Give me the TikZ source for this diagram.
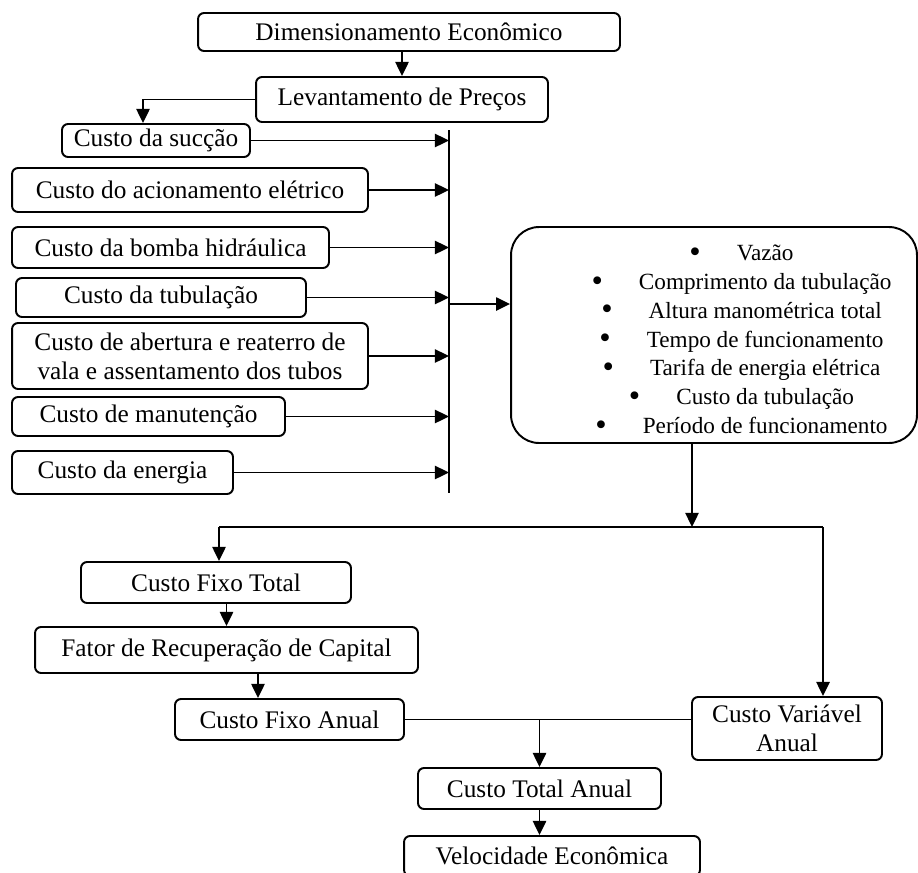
\documentclass[tikz,border=0pt]{standalone}
\usepackage{fontspec}
\setmainfont{Liberation Serif}
\usetikzlibrary{arrows.meta}
\newcommand{\bul}{\raisebox{-0.15ex}{\scalebox{1.4}{\textbullet}}\hspace{0.72cm}}

\begin{document}
\begin{tikzpicture}[->,>={Triangle[length=8pt,width=7.5pt]},x=0.02cm,y=-0.02cm,
  line width=1.1pt,font=\fontsize{14.4}{16.5}\selectfont,
  box node/.style={draw,rounded corners=0.12cm,align=center,inner sep=0pt}]

  \useasboundingbox (0,0) rectangle (918,872);

  \node[box node,minimum width=8.44cm,minimum height=0.76cm] (dim) at (409,32) {Dimensionamento Econômico};
  \node[box node,minimum width=5.84cm,minimum height=0.90cm] (lev) at (402,99.5) {Levantamento de Preços};
  \node[box node,minimum width=3.76cm,minimum height=0.66cm] (suc) at (156,140.5) {Custo da sucção};
  \node[box node,minimum width=7.12cm,minimum height=0.88cm] (acion) at (190,190) {Custo do acionamento elétrico};
  \node[box node,minimum width=6.34cm,minimum height=0.82cm] (bomba) at (170.5,247.5) {Custo da bomba hidráulica};
  \node[box node,minimum width=5.80cm,minimum height=0.78cm] (tub) at (161,297.5) {Custo da tubulação};
  \node[box node,minimum width=7.12cm,minimum height=1.32cm] (abert) at (190,356) {Custo de abertura e reaterro de\\vala e assentamento dos tubos};
  \node[box node,minimum width=5.46cm,minimum height=0.78cm] (manut) at (148.5,416.5) {Custo de manutenção};
  \node[box node,minimum width=4.42cm,minimum height=0.86cm] (energ) at (122.5,472.5) {Custo da energia};
  \node[box node,rounded corners=0.56cm,minimum width=8.12cm,minimum height=4.32cm,
        font=\fontsize{13.2}{16.4}\selectfont] (params) at (714,335)
    {\hspace*{1.1cm}\begin{tabular}{@{}c@{}}
      \rule{0pt}{0.66cm}\bul Vazão\\
      \bul Comprimento da tubulação\\
      \bul Altura manométrica total\\
      \bul Tempo de funcionamento\\
      \bul Tarifa de energia elétrica\\
      \bul Custo da tubulação\\
      \bul Período de funcionamento
    \end{tabular}};
  \node[box node,minimum width=5.40cm,minimum height=0.82cm] (cft) at (216,582.5) {Custo Fixo Total};
  \node[box node,minimum width=7.66cm,minimum height=0.92cm] (frc) at (226.5,650) {Fator de Recuperação de Capital};
  \node[box node,minimum width=4.58cm,minimum height=0.82cm] (cfa) at (289.5,719.5) {Custo Fixo Anual};
  \node[box node,minimum width=3.80cm,minimum height=1.26cm] (cva) at (787,728.5) {Custo Variável\\Anual};
  \node[box node,minimum width=4.86cm,minimum height=0.82cm] (cta) at (539.5,788.5) {Custo Total Anual};
  \node[box node,minimum width=5.92cm,minimum height=0.80cm] (vel) at (552,856) {Velocidade Econômica};

  \coordinate (bt) at (449,130);
  \coordinate (bb) at (449,493);
  \coordinate (bm) at (449,304);
  \coordinate (sl) at (219,527);
  \coordinate (sm) at (692,527);
  \coordinate (sr) at (823,527);

  \draw[-] (bt) -- (bb);
  \draw[-] (sl) -- (sr);
  \draw[-] (cfa.east) -- (cfa.east -| cva.west);
  \draw (lev.west) -| ([xshift=-0.26cm]suc.north);

  \path
    (dim.south -| lev.north) edge (lev.north)
    (suc.east) edge (suc.east -| bt)
    (acion.east) edge (acion.east -| bt)
    (bomba.east) edge (bomba.east -| bt)
    (tub.east) edge (tub.east -| bt)
    (abert.east) edge (abert.east -| bt)
    (manut.east) edge (manut.east -| bt)
    (energ.east) edge (energ.east -| bt)
    (bm) edge (bm -| params.west)
    (params.south -| sm) edge (sm)
    (sl) edge (cft.north -| sl)
    (sr) edge (cva.north -| sr)
    (cft.south -| frc.north) edge (frc.north)
    ([xshift=0.63cm]frc.south) edge ([xshift=0.63cm]frc.south |- cfa.north)
    (cta.north |- cfa.east) edge (cta.north)
    (cta.south) edge (cta.south |- vel.north);
\end{tikzpicture}
\end{document}
